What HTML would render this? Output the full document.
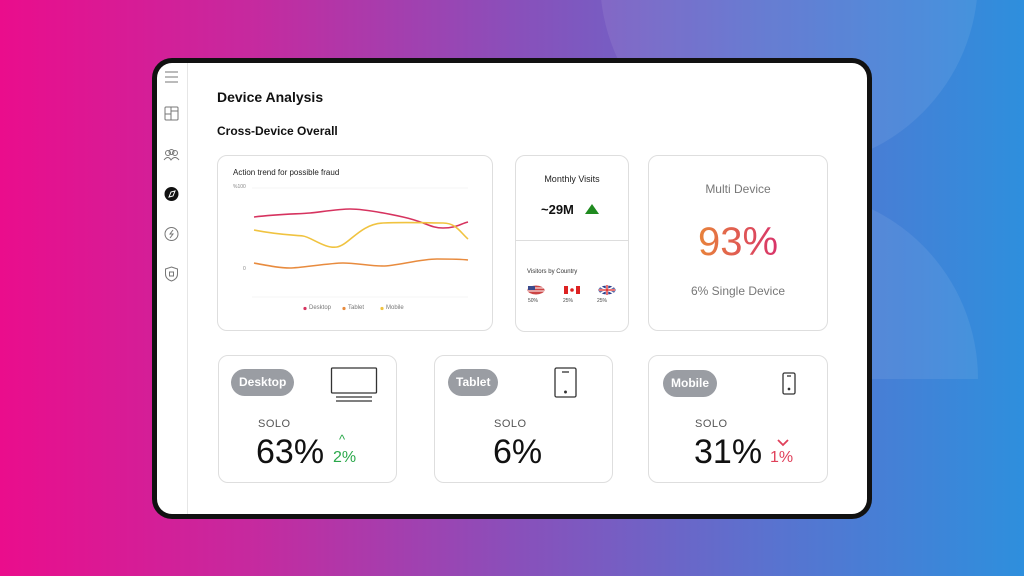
<!DOCTYPE html>
<html><head><meta charset="utf-8"><style>
*{margin:0;padding:0;box-sizing:border-box}
body{width:1024px;height:576px;overflow:hidden;position:relative;font-family:"Liberation Sans","DejaVu Sans",sans-serif;background:linear-gradient(90deg,#ea0d8c 0%,#c52a9f 25%,#8a4fba 50%,#5a72cf 75%,#2e8fdd 100%)}
.circ{position:absolute;background:rgba(255,255,255,0.08)}
.dev{position:absolute;left:152px;top:58px;width:720px;height:461px;background:#111;border-radius:20px}
.scr{position:absolute;left:157px;top:63px;width:710px;height:451px;background:#fff;border-radius:15px;overflow:hidden}
.side{position:absolute;left:0;top:0;width:31px;height:100%;border-right:1px solid #e6e6e6}
.card{position:absolute;background:#fff;border:1px solid #dedede;border-radius:10px}
.abs{position:absolute}
.pill{position:absolute;background:#9a9da3;color:#fff;font-weight:bold;font-size:12px;border-radius:14px;height:27px;line-height:27px;padding:0 8px}
.solo{position:absolute;font-size:11px;color:#555;letter-spacing:.5px}
.big{position:absolute;font-size:34px;color:#111}
</style></head><body>
<div class="circ" style="left:600px;top:-210px;width:378px;height:378px;border-radius:50%"></div>
<div class="circ" style="left:600px;top:190px;width:378px;height:378px;border-radius:50%;clip-path:inset(0 0 50% 0)"></div>
<div class="dev"></div>
<div class="scr">
 <div class="side">
  <svg width="31" height="240" style="position:absolute;left:0;top:0" fill="none" stroke="#777" stroke-width="1">
   <path d="M8 9h13M8 14h13M8 19h13"/>
   <rect x="8" y="44" width="13" height="13" rx="1"/><path d="M14 44v13M8 51h6M14 48h7"/>
   <circle cx="11" cy="90" r="2.5"/><circle cx="18" cy="90" r="2.5"/><circle cx="14.5" cy="89" r="2.5"/><path d="M7 97q4-5 7 0q4-5 8 0"/>
   <circle cx="14.5" cy="131" r="6.5" fill="#111" stroke="#111"/><path d="M12 134l2-5 4-1-2 5z" stroke="#fff"/>
   <circle cx="14.5" cy="171" r="6.5"/><path d="M16 167l-3 4h3l-3 4"/>
   <path d="M14.5 204l6 2v5q0 5-6 7q-6-2-6-7v-5z"/><rect x="12.5" y="209" width="4" height="4"/>
  </svg>
 </div>
 <div class="abs" style="left:60px;top:26px;font-size:14px;font-weight:bold;color:#111">Device Analysis</div>
 <div class="abs" style="left:60px;top:61px;font-size:12px;font-weight:bold;color:#111">Cross-Device Overall</div>
</div>
<div class="card" style="left:217px;top:155px;width:276px;height:176px"></div>
<div class="abs" style="left:233px;top:168px;font-size:8px;color:#222">Action trend for possible fraud</div>
<div class="abs" style="left:233px;top:184px;font-size:5px;color:#888">%100</div>
<div class="abs" style="left:243px;top:266px;font-size:5px;color:#888">0</div>
<svg class="abs" style="left:0;top:0" width="1024" height="576" fill="none" stroke-width="1.6">
 <path d="M252 188H468M252 297H468" stroke="#eee" stroke-width="0.6"/>
 <path d="M254 217C280 214 300 214 310 213S340 209 350 209S380 212 403 217S430 228 443 228S460 224 468 222" stroke="#d6335f"/>
 <path d="M254 230C280 235 295 235 303 236S325 249 337 247S360 224 383 223S430 223 443 223S460 232 468 239" stroke="#f0c340"/>
 <path d="M254 263C270 266 280 268 290 268S330 263 343 263S370 266 383 266S420 259 437 259S460 259 468 260" stroke="#e88b3e"/>
 <circle cx="305" cy="308.5" r="1.6" fill="#d6335f" stroke="none"/>
 <circle cx="344" cy="308.5" r="1.6" fill="#e88b3e" stroke="none"/>
 <circle cx="382" cy="308.5" r="1.6" fill="#f0c340" stroke="none"/>
</svg>
<div class="abs" style="left:309px;top:305px;font-size:6px;color:#777">Desktop</div>
<div class="abs" style="left:348px;top:305px;font-size:6px;color:#777">Tablet</div>
<div class="abs" style="left:386px;top:305px;font-size:6px;color:#777">Mobile</div>
<div class="card" style="left:515px;top:155px;width:114px;height:177px"></div>
<div class="abs" style="left:515px;top:240px;width:114px;height:1px;background:#ddd"></div>
<div class="abs" style="left:515px;top:174px;width:114px;text-align:center;font-size:9px;color:#222">Monthly Visits</div>
<div class="abs" style="left:541px;top:202px;font-size:13px;font-weight:bold;color:#111">~29M</div>
<svg class="abs" style="left:585px;top:204px" width="14" height="11"><path d="M7 0L14 10H0z" fill="#1f8a1f"/></svg>
<div class="abs" style="left:527px;top:269px;font-size:6px;color:#333">Visitors by Country</div>
<svg class="abs" style="left:527px;top:285px" width="95" height="12">
 <ellipse cx="9" cy="5" rx="8.5" ry="4.5" fill="#c44"/><path d="M1 3h16M1 6h16" stroke="#fff" stroke-width="1"/><rect x="1" y="1" width="7" height="4" fill="#3a4a8c"/>
 <ellipse cx="45" cy="5" rx="8" ry="4.5" fill="#fff"/><rect x="37" y="1" width="4" height="8" fill="#d22"/><rect x="49" y="1" width="4" height="8" fill="#d22"/><circle cx="45" cy="5" r="1.8" fill="#d22"/>
 <ellipse cx="80" cy="5" rx="8.5" ry="4.5" fill="#2a3d8c"/><path d="M72 1l16 8M88 1l-16 8" stroke="#fff" stroke-width="1.5"/><path d="M72 5h16M80 0v10" stroke="#fff" stroke-width="2.5"/><path d="M72 5h16M80 0v10" stroke="#d22" stroke-width="1.3"/>
</svg>
<div class="abs" style="left:528px;top:298px;font-size:5px;color:#444">50%</div>
<div class="abs" style="left:563px;top:298px;font-size:5px;color:#444">25%</div>
<div class="abs" style="left:597px;top:298px;font-size:5px;color:#444">25%</div>
<div class="card" style="left:648px;top:155px;width:180px;height:176px"></div>
<div class="abs" style="left:648px;top:182px;width:180px;text-align:center;font-size:12px;color:#777">Multi Device</div>
<div class="abs" style="left:648px;top:220px;width:180px;text-align:center;font-size:40px"><span style="display:inline-block;color:#e5704a;background:linear-gradient(90deg,#e8843a,#d8336a);-webkit-background-clip:text;background-clip:text;-webkit-text-fill-color:transparent">93%</span></div>
<div class="abs" style="left:648px;top:284px;width:180px;text-align:center;font-size:12px;color:#777">6% Single Device</div>
<div class="card" style="left:218px;top:355px;width:179px;height:128px"></div>
<div class="pill" style="left:231px;top:369px">Desktop</div>
<svg class="abs" style="left:330px;top:367px" width="48" height="36" fill="none" stroke="#333" stroke-width="1.3"><rect x="1.5" y="1" width="45" height="25" rx="1"/><path d="M6 30h36M6 34h36"/></svg>
<div class="solo" style="left:258px;top:418px">SOLO</div>
<div class="big" style="left:256px;top:433px">63%</div>
<div class="abs" style="left:339px;top:432px;font-size:13px;color:#2aa84a">^</div>
<div class="abs" style="left:333px;top:449px;font-size:16px;color:#2aa84a">2%</div>
<div class="card" style="left:434px;top:355px;width:179px;height:128px"></div>
<div class="pill" style="left:448px;top:369px">Tablet</div>
<svg class="abs" style="left:554px;top:367px" width="24" height="32" fill="none" stroke="#333" stroke-width="1.3"><rect x="1" y="1" width="21" height="29" rx="1.5"/><path d="M8 5h7"/><circle cx="11.5" cy="25" r="0.8" fill="#333"/></svg>
<div class="solo" style="left:494px;top:418px">SOLO</div>
<div class="big" style="left:493px;top:433px">6%</div>
<div class="card" style="left:648px;top:355px;width:180px;height:128px"></div>
<div class="pill" style="left:663px;top:370px">Mobile</div>
<svg class="abs" style="left:782px;top:372px" width="16" height="24" fill="none" stroke="#333" stroke-width="1.3"><rect x="1" y="1" width="12" height="21" rx="1.5"/><path d="M5 4h4"/><circle cx="7" cy="17" r="0.7" fill="#333"/></svg>
<div class="solo" style="left:695px;top:418px">SOLO</div>
<div class="big" style="left:694px;top:433px">31%</div>
<svg class="abs" style="left:777px;top:439px" width="12" height="8"><path d="M1 1l5 5 5-5" fill="none" stroke="#e0405a" stroke-width="1.8"/></svg>
<div class="abs" style="left:770px;top:449px;font-size:16px;color:#e0405a">1%</div>
</body></html>
